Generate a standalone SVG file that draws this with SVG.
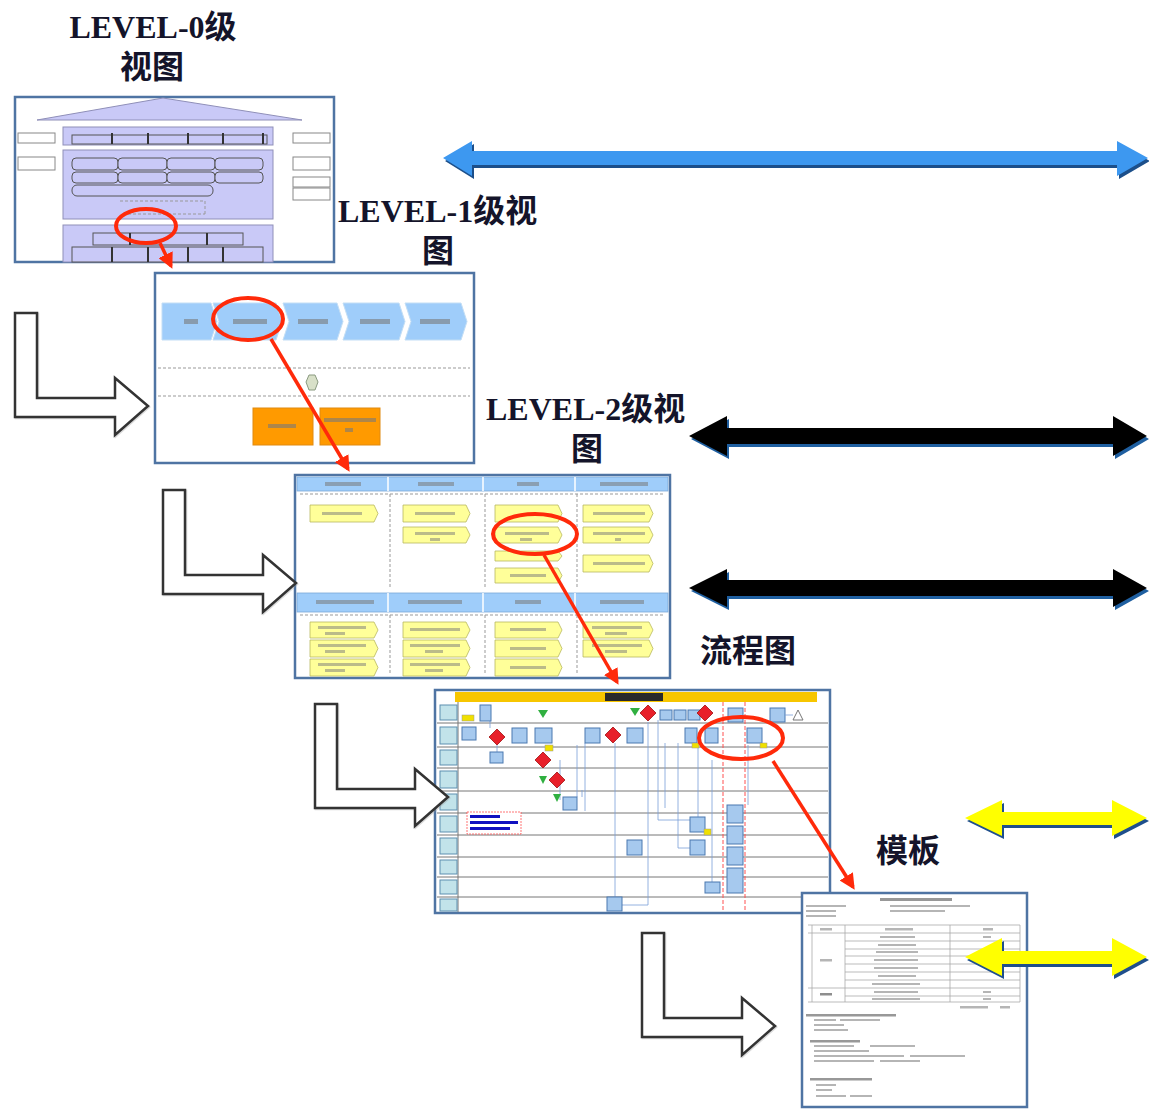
<svg xmlns="http://www.w3.org/2000/svg" width="1149" height="1111" viewBox="0 0 1149 1111">
<style>
.ttl{font-family:"Liberation Serif","Noto Sans CJK SC",serif;font-weight:bold;font-size:32px;fill:#14142a}
.frm{fill:#fff;stroke:#4f74a3;stroke-width:2.5}
.pur{fill:#c9c9f7;stroke:#8f8fb8;stroke-width:1}
.pbar{fill:#c9c9f7;stroke:#555;stroke-width:1}
.side{fill:#fff;stroke:#888;stroke-width:1}
.chev{fill:#9fcdfa;stroke:#c3def5;stroke-width:1}
.org{fill:#ff9a00;stroke:#e08a10;stroke-width:1}
.hdr{fill:#9fcdfa;stroke:#7aa8d8;stroke-width:0.8}
.ybox{fill:#ffff99;stroke:#b8b860;stroke-width:0.8}
.bbox{fill:#a6c9ee;stroke:#4a78b0;stroke-width:1}
.dia{fill:#e8202a;stroke:#a01010;stroke-width:0.8}
.lane{fill:none;stroke:#777;stroke-width:1}
.lbl{fill:#c2e3ea;stroke:#5d8fb0;stroke-width:1}
.thin{fill:none;stroke:#7aa0d8;stroke-width:0.8}
.mk{fill:#7a7a7a}
.red{fill:none;stroke:#ff2a0a;stroke-width:4}
.redl{fill:none;stroke:#ff2a0a;stroke-width:3.5}
.holl{fill:#fff;stroke:#333;stroke-width:2.5;stroke-linejoin:miter}
.dash{fill:none;stroke:#999;stroke-width:1;stroke-dasharray:3 2}
</style>
<defs>
<marker id="rh" viewBox="0 0 10 10" refX="8" refY="5" markerWidth="4.5" markerHeight="4.5" orient="auto" markerUnits="strokeWidth">
<path d="M0,0 L10,5 L0,10 z" fill="#ff2a0a"/>
</marker>
<polygon id="lArrow" points="0,0 22,0 22,85 100,85 100,65 133,93 100,122 100,104 0,104"/>
</defs>

<g id="labels">
<text class="ttl" x="153" y="38" text-anchor="middle">LEVEL-0级</text>
<text class="ttl" x="152" y="78" text-anchor="middle">视图</text>
<text class="ttl" x="338" y="222">LEVEL-1级视</text>
<text class="ttl" x="438" y="262" text-anchor="middle">图</text>
<text class="ttl" x="486" y="420">LEVEL-2级视</text>
<text class="ttl" x="587" y="460" text-anchor="middle">图</text>
<text class="ttl" x="700" y="662">流程图</text>
<text class="ttl" x="876" y="862">模板</text>
</g>

<g id="level0">
<rect class="frm" x="15" y="97" width="319" height="165"/>
<polygon class="pur" points="37,120 163,98 302,120"/>
<rect class="pur" x="63" y="127" width="210" height="18"/>
<rect class="pbar" x="72" y="135" width="195" height="9"/>
<path d="M112,133v11M148,133v11M188,133v11M223,133v11M263,133v11" stroke="#333" stroke-width="2"/>
<rect class="pur" x="63" y="150" width="210" height="69"/>
<rect class="pbar" x="72" y="158" width="46" height="12" rx="4"/>
<rect class="pbar" x="118" y="158" width="49" height="12" rx="4"/>
<rect class="pbar" x="167" y="158" width="48" height="12" rx="4"/>
<rect class="pbar" x="215" y="158" width="48" height="12" rx="4"/>
<rect class="pbar" x="72" y="172" width="46" height="11" rx="4"/>
<rect class="pbar" x="118" y="172" width="49" height="11" rx="4"/>
<rect class="pbar" x="167" y="172" width="48" height="11" rx="4"/>
<rect class="pbar" x="215" y="172" width="48" height="11" rx="4"/>
<rect class="pbar" x="72" y="185" width="141" height="11" rx="5"/>
<path d="M120,201h85M128,214h77M205,201v13" class="dash" stroke="#777"/>
<rect class="pur" x="63" y="225" width="210" height="37"/>
<rect class="pbar" x="93" y="233" width="150" height="12"/>
<path d="M130,233v12M207,233v12" stroke="#333" stroke-width="2"/>
<rect class="pbar" x="72" y="247" width="191" height="15"/>
<path d="M112,247v15M148,247v15M188,247v15M223,247v15" stroke="#333" stroke-width="2"/>
<rect class="side" x="18" y="133" width="37" height="10"/>
<rect class="side" x="18" y="157" width="37" height="13"/>
<rect class="side" x="293" y="133" width="37" height="10"/>
<rect class="side" x="293" y="157" width="37" height="13"/>
<rect class="side" x="293" y="177" width="37" height="10"/>
<rect class="side" x="293" y="188" width="37" height="12"/>
</g>

<g id="level1">
<rect class="frm" x="155" y="273" width="319" height="190"/>
<polygon class="chev" points="162,303 211,303 217,321.5 211,340 162,340"/>
<polygon class="chev" points="213,303 276,303 282,321.5 276,340 213,340 219,321.5"/>
<polygon class="chev" points="283,303 337,303 343,321.5 337,340 283,340 289,321.5"/>
<polygon class="chev" points="343,303 399,303 405,321.5 399,340 343,340 349,321.5"/>
<polygon class="chev" points="405,303 461,303 467,321.5 461,340 405,340 411,321.5"/>
<g class="mk" opacity="0.6">
<rect x="184" y="319" width="14" height="5"/>
<rect x="233" y="319" width="34" height="5"/>
<rect x="298" y="319" width="30" height="5"/>
<rect x="360" y="319" width="30" height="5"/>
<rect x="420" y="319" width="30" height="5"/>
</g>
<path class="dash" d="M158,368h312M158,396h312"/>
<polygon points="309,375 315,375 318,382 315,390 309,390 306,382" fill="#d8e0c8" stroke="#8a9a80" stroke-width="1"/>
<rect class="org" x="253" y="408" width="60" height="37"/>
<rect class="org" x="320" y="408" width="60" height="37"/>
<g class="mk" opacity="0.6">
<rect x="268" y="424" width="28" height="4"/>
<rect x="324" y="418" width="52" height="4"/>
<rect x="345" y="428" width="8" height="4"/>
</g>
</g>

<g id="level2">
<rect class="frm" x="295" y="475" width="375" height="203"/>
<rect class="hdr" x="297" y="477" width="371" height="14"/>
<rect class="hdr" x="297" y="593" width="371" height="19"/>
<path d="M388,477v14M483,477v14M575,477v14M388,593v19M483,593v19M575,593v19" stroke="#fff" stroke-width="1.5"/>
<path class="dash" d="M300,494h365M300,615h365M390,494v95M485,494v95M577,494v95M390,615v60M485,615v60M577,615v60" stroke="#bbb"/>
<g class="mk" opacity="0.55">
<rect x="325" y="482" width="36" height="4"/>
<rect x="418" y="482" width="36" height="4"/>
<rect x="517" y="482" width="22" height="4"/>
<rect x="600" y="482" width="48" height="4"/>
<rect x="316" y="600" width="58" height="4"/>
<rect x="408" y="600" width="54" height="4"/>
<rect x="515" y="600" width="26" height="4"/>
<rect x="600" y="600" width="44" height="4"/>
</g>
<g id="l2boxes">
<polygon class="ybox" points="310,505 374,505 378,513.5 374,522 310,522"/>
<polygon class="ybox" points="403,505 466,505 470,513.5 466,522 403,522"/>
<polygon class="ybox" points="403,527 466,527 470,535 466,543 403,543"/>
<polygon class="ybox" points="495,505 558,505 562,513.5 558,522 495,522"/>
<polygon class="ybox" points="495,527 558,527 562,535 558,543 495,543"/>
<polygon class="ybox" points="495,551 558,551 562,556 558,561 495,561"/>
<polygon class="ybox" points="495,568 558,568 562,575.5 558,583 495,583"/>
<polygon class="ybox" points="583,505 649,505 653,513.5 649,522 583,522"/>
<polygon class="ybox" points="583,527 649,527 653,535 649,543 583,543"/>
<polygon class="ybox" points="583,555 649,555 653,563.5 649,572 583,572"/>
<polygon class="ybox" points="310,622 374,622 378,630 374,638 310,638"/>
<polygon class="ybox" points="310,640 374,640 378,648.5 374,657 310,657"/>
<polygon class="ybox" points="310,659 374,659 378,667.5 374,676 310,676"/>
<polygon class="ybox" points="403,622 466,622 470,630 466,638 403,638"/>
<polygon class="ybox" points="403,640 466,640 470,648.5 466,657 403,657"/>
<polygon class="ybox" points="403,659 466,659 470,667.5 466,676 403,676"/>
<polygon class="ybox" points="495,622 558,622 562,630 558,638 495,638"/>
<polygon class="ybox" points="495,640 558,640 562,648.5 558,657 495,657"/>
<polygon class="ybox" points="495,659 558,659 562,667.5 558,676 495,676"/>
<polygon class="ybox" points="583,622 649,622 653,630 649,638 583,638"/>
<polygon class="ybox" points="583,640 649,640 653,648.5 649,657 583,657"/>
</g>
<g class="mk" opacity="0.5">
<rect x="322" y="512" width="40" height="3"/>
<rect x="415" y="512" width="40" height="3"/>
<rect x="415" y="532" width="40" height="3"/><rect x="430" y="538" width="10" height="3"/>
<rect x="505" y="532" width="44" height="3"/><rect x="520" y="538" width="12" height="3"/>
<rect x="510" y="574" width="36" height="3"/>
<rect x="593" y="512" width="52" height="3"/>
<rect x="593" y="532" width="52" height="3"/><rect x="615" y="538" width="6" height="3"/>
<rect x="593" y="562" width="52" height="3"/>
<rect x="318" y="626" width="48" height="3"/><rect x="325" y="632" width="20" height="3"/>
<rect x="318" y="644" width="48" height="3"/><rect x="325" y="650" width="20" height="3"/>
<rect x="318" y="663" width="48" height="3"/><rect x="325" y="669" width="20" height="3"/>
<rect x="410" y="628" width="50" height="3"/>
<rect x="410" y="644" width="50" height="3"/><rect x="425" y="650" width="18" height="3"/>
<rect x="410" y="663" width="50" height="3"/><rect x="425" y="669" width="18" height="3"/>
<rect x="510" y="628" width="36" height="3"/>
<rect x="510" y="647" width="36" height="3"/>
<rect x="510" y="666" width="36" height="3"/>
<rect x="592" y="626" width="50" height="3"/><rect x="605" y="632" width="22" height="3"/>
<rect x="592" y="644" width="50" height="3"/><rect x="605" y="650" width="22" height="3"/>
</g>
</g>

<g id="flowchart">
<rect class="frm" x="435" y="690" width="395" height="223"/>
<rect x="455" y="692" width="362" height="10" fill="#f7c600"/>
<rect x="605" y="693" width="58" height="8" fill="#2a2a2a"/>
<path class="lane" d="M437,723h391M437,747h391M437,768h391M437,791h391M437,813h391M437,835h391M437,857h391M437,877h391M437,897h391"/>
<path d="M458,702v210" stroke="#777" stroke-width="1"/>
<g>
<rect class="lbl" x="440" y="705" width="17" height="15"/>
<rect class="lbl" x="440" y="727" width="17" height="17"/>
<rect class="lbl" x="440" y="750" width="17" height="15"/>
<rect class="lbl" x="440" y="771" width="17" height="17"/>
<rect class="lbl" x="440" y="794" width="17" height="16"/>
<rect class="lbl" x="440" y="816" width="17" height="16"/>
<rect class="lbl" x="440" y="838" width="17" height="16"/>
<rect class="lbl" x="440" y="860" width="17" height="14"/>
<rect class="lbl" x="440" y="880" width="17" height="14"/>
<rect class="lbl" x="440" y="899" width="17" height="12"/>
</g>
<path class="thin" d="M490,720v8M497,745v7M615,743v154M648,722v183h-26M658,720v100h32M678,743v105h12M577,745v52M585,743v68M665,743v65M698,743v82M712,760v125M748,745v60M560,760v40M582,790v7"/>
<path d="M723,702v210M745,702v210" stroke="#ff5050" stroke-width="1" stroke-dasharray="4 2"/>
<g>
<rect class="bbox" x="480" y="705" width="11" height="16"/>
<rect class="bbox" x="462" y="727" width="14" height="13"/>
<rect x="462" y="715" width="12" height="6" fill="#f0e000" stroke="#999" stroke-width="0.5"/>
<rect class="bbox" x="512" y="728" width="15" height="15"/>
<rect class="bbox" x="535" y="728" width="17" height="15"/>
<rect class="bbox" x="490" y="752" width="13" height="11"/>
<rect class="bbox" x="563" y="797" width="14" height="13"/>
<rect class="bbox" x="585" y="728" width="15" height="15"/>
<rect class="bbox" x="627" y="728" width="16" height="15"/>
<rect class="bbox" x="660" y="710" width="12" height="10"/>
<rect class="bbox" x="674" y="710" width="12" height="10"/>
<rect class="bbox" x="688" y="710" width="12" height="10"/>
<rect class="bbox" x="728" y="708" width="15" height="14"/>
<rect class="bbox" x="770" y="708" width="15" height="14"/>
<rect class="bbox" x="685" y="728" width="12" height="15"/>
<rect class="bbox" x="705" y="728" width="13" height="15"/>
<rect class="bbox" x="747" y="728" width="15" height="15"/>
<rect class="bbox" x="627" y="840" width="15" height="15"/>
<rect class="bbox" x="690" y="817" width="15" height="15"/>
<rect class="bbox" x="690" y="840" width="15" height="15"/>
<rect class="bbox" x="727" y="805" width="16" height="18"/>
<rect class="bbox" x="727" y="826" width="16" height="18"/>
<rect class="bbox" x="727" y="847" width="16" height="18"/>
<rect class="bbox" x="727" y="868" width="16" height="25"/>
<rect class="bbox" x="705" y="882" width="15" height="11"/>
<rect class="bbox" x="607" y="897" width="15" height="14"/>
<rect x="545" y="745" width="8" height="6" fill="#f0e000" stroke="#999" stroke-width="0.5"/>
<rect x="692" y="743" width="7" height="5" fill="#f0e000" stroke="#999" stroke-width="0.5"/>
<rect x="760" y="743" width="7" height="5" fill="#f0e000" stroke="#999" stroke-width="0.5"/>
<rect x="704" y="829" width="7" height="6" fill="#f0e000" stroke="#999" stroke-width="0.5"/>
<polygon class="dia" points="497,729 505,737 497,745 489,737"/>
<polygon class="dia" points="543,752 551,760 543,768 535,760"/>
<polygon class="dia" points="557,772 565,780 557,788 549,780"/>
<polygon class="dia" points="613,727 621,735 613,743 605,735"/>
<polygon class="dia" points="648,705 656,713 648,721 640,713"/>
<polygon class="dia" points="705,705 713,713 705,721 697,713"/>
<polygon points="538,710 548,710 543,718" fill="#30b040"/>
<polygon points="630,708 640,708 635,716" fill="#30b040"/>
<polygon points="539,776 547,776 543,784" fill="#30b040"/>
<polygon points="553,794 561,794 557,802" fill="#30b040"/>
<polygon points="798,710 803,720 793,720" fill="#fff" stroke="#777" stroke-width="1"/>
<path class="thin" d="M785,715h8"/>
<rect x="467" y="812" width="54" height="22" fill="#fff" stroke="#ff5050" stroke-width="0.8" stroke-dasharray="2 1"/>
<rect x="470" y="815" width="30" height="3" fill="#1010c0"/>
<rect x="470" y="821" width="48" height="3" fill="#1010c0"/>
<rect x="470" y="827" width="40" height="3" fill="#1010c0"/>
</g>
</g>

<g id="template">
<rect class="frm" x="802" y="893" width="225" height="214"/>
<g class="mk" opacity="0.55">
<rect x="880" y="898" width="72" height="3" fill="#444"/>
<rect x="806" y="905" width="40" height="2"/><rect x="806" y="910" width="30" height="2"/><rect x="806" y="915" width="30" height="2"/>
<rect x="890" y="905" width="80" height="2"/><rect x="890" y="910" width="55" height="2"/>
</g>
<path d="M808,925h212M808,933h212M845,941h175M845,949h175M845,956h175M845,964h175M845,972h175M845,980h175M808,988h212M845,996h175M808,1002h212M812,925v77M845,925v77M950,925v77M1020,925v77" stroke="#aaa" stroke-width="0.8" fill="none"/>
<g class="mk" opacity="0.55">
<rect x="820" y="928" width="12" height="2.5"/><rect x="885" y="928" width="28" height="2.5"/><rect x="983" y="928" width="10" height="2.5"/>
<rect x="880" y="936" width="35" height="2"/><rect x="878" y="944" width="38" height="2"/><rect x="876" y="951" width="42" height="2"/>
<rect x="874" y="959" width="44" height="2"/><rect x="874" y="967" width="44" height="2"/><rect x="878" y="975" width="38" height="2"/>
<rect x="872" y="983" width="48" height="2"/><rect x="874" y="991" width="44" height="2"/><rect x="872" y="998" width="48" height="2"/>
<rect x="820" y="959" width="12" height="2.5"/><rect x="820" y="993" width="12" height="2.5" fill="#333"/>
<rect x="983" y="936" width="8" height="2"/><rect x="983" y="991" width="8" height="2"/><rect x="983" y="998" width="8" height="2"/>
<rect x="960" y="1006" width="28" height="2.5"/><rect x="1000" y="1006" width="10" height="2.5"/>
<rect x="806" y="1014" width="90" height="2.5" fill="#444"/>
<rect x="814" y="1019" width="22" height="2"/><rect x="840" y="1019" width="40" height="2"/>
<rect x="814" y="1024" width="30" height="2"/><rect x="814" y="1029" width="34" height="2"/>
<rect x="810" y="1040" width="50" height="2.5" fill="#444"/>
<rect x="814" y="1045" width="40" height="2"/><rect x="870" y="1045" width="45" height="2"/>
<rect x="814" y="1050" width="55" height="2"/>
<rect x="814" y="1055" width="90" height="2"/><rect x="910" y="1055" width="55" height="2"/>
<rect x="814" y="1060" width="60" height="2"/><rect x="880" y="1060" width="40" height="2"/>
<rect x="810" y="1078" width="62" height="2.5" fill="#444"/>
<rect x="816" y="1084" width="20" height="2"/><rect x="816" y="1089" width="16" height="2"/>
<rect x="816" y="1095" width="30" height="2"/><rect x="850" y="1095" width="22" height="2"/>
</g>
</g>

<g id="connectors">
<ellipse class="red" cx="146" cy="226" rx="30" ry="17"/>
<line class="redl" x1="160" y1="243" x2="171" y2="266" marker-end="url(#rh)"/>
<ellipse class="red" cx="248" cy="319" rx="35" ry="21"/>
<line class="redl" x1="271" y1="339" x2="348" y2="469" marker-end="url(#rh)"/>
<ellipse class="red" cx="535" cy="534" rx="42" ry="20"/>
<line class="redl" x1="544" y1="555" x2="617" y2="682" marker-end="url(#rh)"/>
<ellipse class="red" cx="741" cy="738" rx="42" ry="21"/>
<line class="redl" x1="773" y1="761" x2="853" y2="887" marker-end="url(#rh)"/>

<use href="#lArrow" class="holl" transform="translate(16,314)" opacity="0.35" style="stroke:#999"/>
<use href="#lArrow" class="holl" transform="translate(15,313)"/>
<use href="#lArrow" class="holl" transform="translate(164,491)" opacity="0.35" style="stroke:#999"/>
<use href="#lArrow" class="holl" transform="translate(163,490)"/>
<use href="#lArrow" class="holl" transform="translate(316,705)" opacity="0.35" style="stroke:#999"/>
<use href="#lArrow" class="holl" transform="translate(315,704)"/>
<use href="#lArrow" class="holl" transform="translate(643,934)" opacity="0.35" style="stroke:#999"/>
<use href="#lArrow" class="holl" transform="translate(642,933)"/>

<polygon transform="translate(2,3)" fill="#1c4f8a" points="443,158 472,141 472,151 1117,151 1117,141 1148,158 1117,176 1117,165 472,165 472,176"/>
<polygon fill="#3d98f0" points="443,158 472,141 472,151 1117,151 1117,141 1148,158 1117,176 1117,165 472,165 472,176"/>

<polygon transform="translate(2,3)" fill="#1f5fa0" points="689,436 727,416 727,428 1113,428 1113,416 1147,436 1113,456 1113,444 727,444 727,456"/>
<polygon fill="#000" points="689,436 727,416 727,428 1113,428 1113,416 1147,436 1113,456 1113,444 727,444 727,456"/>

<polygon transform="translate(2,3)" fill="#1f5fa0" points="689,588 727,569 727,580 1113,580 1113,569 1147,588 1113,607 1113,596 727,596 727,607"/>
<polygon fill="#000" points="689,588 727,569 727,580 1113,580 1113,569 1147,588 1113,607 1113,596 727,596 727,607"/>

<polygon transform="translate(2,3)" fill="#1f4f8c" points="965,818 1002,800 1002,812 1112,812 1112,800 1147,818 1112,836 1112,825 1002,825 1002,836"/>
<polygon fill="#ffff00" points="965,818 1002,800 1002,812 1112,812 1112,800 1147,818 1112,836 1112,825 1002,825 1002,836"/>

<polygon transform="translate(2,3)" fill="#1f4f8c" points="965,957 1002,938 1002,951 1112,951 1112,938 1147,957 1112,976 1112,964 1002,964 1002,976"/>
<polygon fill="#ffff00" points="965,957 1002,938 1002,951 1112,951 1112,938 1147,957 1112,976 1112,964 1002,964 1002,976"/>
</g>
</svg>
